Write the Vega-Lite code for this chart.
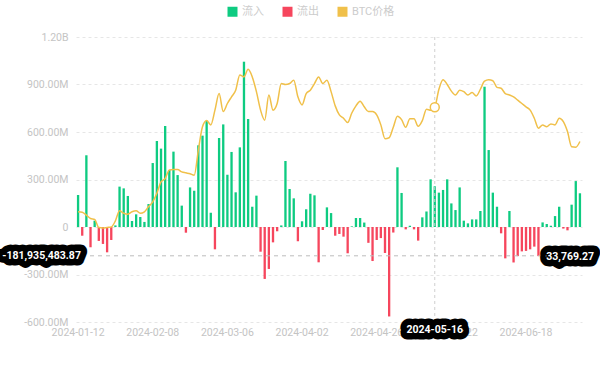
{
"$schema": "https://vega.github.io/schema/vega-lite/v6.json",
"width": 506, "height": 285,
"autosize": {"type": "none"},
"padding": {"left": 76, "top": 37, "right": 18, "bottom": 47},
"background": "white",
"config": {"font": "Roboto", "view": {"stroke": null}},
"datasets": {"flows": [
{"d":"2024-01-12","flow":202000000,"dir":"流入","price":43200},
{"d":"2024-01-16","flow":-55000000,"dir":"流出","price":43100},
{"d":"2024-01-17","flow":453000000,"dir":"流入","price":42500},
{"d":"2024-01-18","flow":-128000000,"dir":"流出","price":41800},
{"d":"2024-01-19","flow":40000000,"dir":"流入","price":41600},
{"d":"2024-01-22","flow":-88000000,"dir":"流出","price":39900},
{"d":"2024-01-23","flow":-107000000,"dir":"流出","price":39800},
{"d":"2024-01-24","flow":-160000000,"dir":"流出","price":39900},
{"d":"2024-01-25","flow":-82000000,"dir":"流出","price":40000},
{"d":"2024-01-26","flow":10000000,"dir":"流入","price":41300},
{"d":"2024-01-29","flow":255000000,"dir":"流入","price":43400},
{"d":"2024-01-30","flow":244000000,"dir":"流入","price":42900},
{"d":"2024-01-31","flow":196000000,"dir":"流入","price":42700},
{"d":"2024-02-01","flow":38000000,"dir":"流入","price":43200},
{"d":"2024-02-02","flow":80000000,"dir":"流入","price":43400},
{"d":"2024-02-05","flow":63000000,"dir":"流入","price":42900},
{"d":"2024-02-06","flow":32000000,"dir":"流入","price":43200},
{"d":"2024-02-07","flow":145000000,"dir":"流入","price":44300},
{"d":"2024-02-08","flow":404000000,"dir":"流入","price":45300},
{"d":"2024-02-09","flow":543000000,"dir":"流入","price":47100},
{"d":"2024-02-12","flow":495000000,"dir":"流入","price":49500},
{"d":"2024-02-13","flow":638000000,"dir":"流入","price":50200},
{"d":"2024-02-14","flow":360000000,"dir":"流入","price":52000},
{"d":"2024-02-15","flow":476000000,"dir":"流入","price":52100},
{"d":"2024-02-16","flow":328000000,"dir":"流入","price":52100},
{"d":"2024-02-20","flow":135000000,"dir":"流入","price":51600},
{"d":"2024-02-21","flow":-36000000,"dir":"流出","price":51400},
{"d":"2024-02-22","flow":250000000,"dir":"流入","price":51200},
{"d":"2024-02-23","flow":229000000,"dir":"流入","price":50900},
{"d":"2024-02-26","flow":516000000,"dir":"流入","price":56200},
{"d":"2024-02-27","flow":577000000,"dir":"流入","price":61100},
{"d":"2024-02-28","flow":669000000,"dir":"流入","price":62400},
{"d":"2024-02-29","flow":90000000,"dir":"流入","price":61500},
{"d":"2024-03-01","flow":-141000000,"dir":"流出","price":64600},
{"d":"2024-03-04","flow":562000000,"dir":"流入","price":68100},
{"d":"2024-03-05","flow":648000000,"dir":"流入","price":64300},
{"d":"2024-03-06","flow":330000000,"dir":"流入","price":66000},
{"d":"2024-03-07","flow":474000000,"dir":"流入","price":67400},
{"d":"2024-03-08","flow":219000000,"dir":"流入","price":68800},
{"d":"2024-03-11","flow":503000000,"dir":"流入","price":72000},
{"d":"2024-03-12","flow":1044000000,"dir":"流入","price":71600},
{"d":"2024-03-13","flow":682000000,"dir":"流入","price":73200},
{"d":"2024-03-14","flow":128000000,"dir":"流入","price":71600},
{"d":"2024-03-15","flow":198000000,"dir":"流入","price":68500},
{"d":"2024-03-18","flow":-156000000,"dir":"流出","price":64600},
{"d":"2024-03-19","flow":-328000000,"dir":"流出","price":62500},
{"d":"2024-03-20","flow":-265000000,"dir":"流出","price":67800},
{"d":"2024-03-21","flow":-97000000,"dir":"流出","price":64600},
{"d":"2024-03-22","flow":-27000000,"dir":"流出","price":66000},
{"d":"2024-03-25","flow":10000000,"dir":"流入","price":70200},
{"d":"2024-03-26","flow":417000000,"dir":"流入","price":70000},
{"d":"2024-03-27","flow":240000000,"dir":"流入","price":70200},
{"d":"2024-03-28","flow":181000000,"dir":"流入","price":70900},
{"d":"2024-04-01","flow":-90000000,"dir":"流出","price":67400},
{"d":"2024-04-02","flow":36000000,"dir":"流入","price":65700},
{"d":"2024-04-03","flow":112000000,"dir":"流入","price":68100},
{"d":"2024-04-04","flow":210000000,"dir":"流入","price":68800},
{"d":"2024-04-05","flow":200000000,"dir":"流入","price":70200},
{"d":"2024-04-08","flow":-223000000,"dir":"流出","price":71600},
{"d":"2024-04-09","flow":-19000000,"dir":"流出","price":70200},
{"d":"2024-04-10","flow":124000000,"dir":"流入","price":70900},
{"d":"2024-04-11","flow":88000000,"dir":"流入","price":68500},
{"d":"2024-04-12","flow":-55000000,"dir":"流出","price":65500},
{"d":"2024-04-15","flow":-44000000,"dir":"流出","price":63600},
{"d":"2024-04-16","flow":-61000000,"dir":"流出","price":62900},
{"d":"2024-04-17","flow":-166000000,"dir":"流出","price":62000},
{"d":"2024-04-18","flow":4000000,"dir":"流入","price":64000},
{"d":"2024-04-19","flow":57000000,"dir":"流入","price":65500},
{"d":"2024-04-22","flow":57000000,"dir":"流入","price":66500},
{"d":"2024-04-23","flow":28000000,"dir":"流入","price":65300},
{"d":"2024-04-24","flow":-100000000,"dir":"流出","price":64300},
{"d":"2024-04-25","flow":-215000000,"dir":"流出","price":64300},
{"d":"2024-04-26","flow":-82000000,"dir":"流出","price":63600},
{"d":"2024-04-29","flow":-70000000,"dir":"流出","price":61500},
{"d":"2024-04-30","flow":-164000000,"dir":"流出","price":58600},
{"d":"2024-05-01","flow":-565000000,"dir":"流出","price":58800},
{"d":"2024-05-02","flow":-35000000,"dir":"流出","price":61000},
{"d":"2024-05-03","flow":377000000,"dir":"流入","price":63300},
{"d":"2024-05-06","flow":215000000,"dir":"流入","price":62600},
{"d":"2024-05-07","flow":-15000000,"dir":"流出","price":61000},
{"d":"2024-05-08","flow":8000000,"dir":"流入","price":62800},
{"d":"2024-05-09","flow":-15000000,"dir":"流出","price":62800},
{"d":"2024-05-10","flow":-86000000,"dir":"流出","price":61200},
{"d":"2024-05-13","flow":61000000,"dir":"流入","price":62400},
{"d":"2024-05-14","flow":98000000,"dir":"流入","price":64800},
{"d":"2024-05-15","flow":301000000,"dir":"流入","price":64600},
{"d":"2024-05-16","flow":257000000,"dir":"流入","price":65200},
{"d":"2024-05-17","flow":217000000,"dir":"流入","price":69000},
{"d":"2024-05-20","flow":234000000,"dir":"流入","price":71000},
{"d":"2024-05-21","flow":301000000,"dir":"流入","price":70000},
{"d":"2024-05-22","flow":149000000,"dir":"流入","price":68600},
{"d":"2024-05-23","flow":107000000,"dir":"流入","price":67800},
{"d":"2024-05-24","flow":250000000,"dir":"流入","price":68800},
{"d":"2024-05-28","flow":40000000,"dir":"流入","price":68500},
{"d":"2024-05-29","flow":23000000,"dir":"流入","price":67800},
{"d":"2024-05-30","flow":48000000,"dir":"流入","price":68300},
{"d":"2024-05-31","flow":48000000,"dir":"流入","price":67600},
{"d":"2024-06-03","flow":101000000,"dir":"流入","price":69000},
{"d":"2024-06-04","flow":886000000,"dir":"流入","price":70700},
{"d":"2024-06-05","flow":486000000,"dir":"流入","price":71000},
{"d":"2024-06-06","flow":217000000,"dir":"流入","price":70800},
{"d":"2024-06-07","flow":128000000,"dir":"流入","price":69400},
{"d":"2024-06-10","flow":-40000000,"dir":"流出","price":69200},
{"d":"2024-06-11","flow":-198000000,"dir":"流出","price":68100},
{"d":"2024-06-12","flow":101000000,"dir":"流入","price":67800},
{"d":"2024-06-13","flow":-224000000,"dir":"流出","price":67400},
{"d":"2024-06-14","flow":-184000000,"dir":"流出","price":66700},
{"d":"2024-06-17","flow":-154000000,"dir":"流出","price":66000},
{"d":"2024-06-18","flow":-151000000,"dir":"流出","price":65300},
{"d":"2024-06-20","flow":-141000000,"dir":"流出","price":64600},
{"d":"2024-06-21","flow":-124000000,"dir":"流出","price":62900},
{"d":"2024-06-24","flow":-184000000,"dir":"流出","price":60800},
{"d":"2024-06-25","flow":29000000,"dir":"流入","price":61500},
{"d":"2024-06-26","flow":19000000,"dir":"流入","price":61100},
{"d":"2024-06-27","flow":8000000,"dir":"流入","price":61700},
{"d":"2024-06-28","flow":69000000,"dir":"流入","price":61500},
{"d":"2024-07-01","flow":128000000,"dir":"流入","price":62900},
{"d":"2024-07-02","flow":-10000000,"dir":"流出","price":62200},
{"d":"2024-07-03","flow":-21000000,"dir":"流出","price":60100},
{"d":"2024-07-05","flow":141000000,"dir":"流入","price":56900},
{"d":"2024-07-08","flow":290000000,"dir":"流入","price":56800},
{"d":"2024-07-09","flow":213000000,"dir":"流入","price":58000}
]},
"layer": [
 {"layer": [
  {"data": {"name": "flows"},
   "mark": {"type": "bar"},
   "encoding": {
    "x": {"field": "d", "type": "ordinal", "title": null,
      "scale": {"paddingInner": 0.44, "paddingOuter": 0.22},
      "axis": {"values": ["2024-01-12","2024-02-08","2024-03-06","2024-04-02","2024-04-26","2024-05-22","2024-06-18"],
        "labelAngle": 0, "labelColor": "#c4c4c4", "labelFontSize": 10.5, "ticks": false, "domain": false,
        "grid": false, "labelPadding": 5, "labelOverlap": false, "labelBound": false, "zindex": 0}},
    "y": {"field": "flow", "type": "quantitative", "title": null,
      "scale": {"domain": [-600000000, 1200000000], "nice": false, "zero": false},
      "axis": {"values": [-600000000,-300000000,0,300000000,600000000,900000000,1200000000],
        "labelExpr": "datum.value == 0 ? '0' : (datum.value < 0 ? '-' : '') + (abs(datum.value) >= 1000000000 ? format(abs(datum.value)/1000000000, '.2f') + 'B' : format(abs(datum.value)/1000000, '.2f') + 'M')",
        "labelColor": "#c4c4c4", "labelFontSize": 10.5, "ticks": false, "domain": false,
        "grid": true, "gridColor": "#e6e6e6", "gridDash": [3, 3], "labelPadding": 8, "zindex": 0}},
    "color": {"field": "dir", "type": "nominal",
      "scale": {"domain": ["流入","流出","BTC价格"], "range": ["#0ECB81","#F6465D","#F0C04A"]},
      "legend": {"title": null, "orient": "none", "legendX": 151, "legendY": -31, "direction": "horizontal",
        "symbolType": "square", "symbolSize": 100, "symbolStrokeWidth": 0, "labelFontSize": 11,
        "labelColor": "#cccccc", "labelFont": "Roboto, Noto Sans CJK SC", "columnPadding": 18}}
   }},
  {"data": {"values": [{"d": "2024-05-16"}]},
   "mark": {"type": "rule", "color": "#cfcfcf", "strokeDash": [3, 3], "strokeWidth": 1},
   "encoding": {"x": {"field": "d", "type": "ordinal", "title": null}}},
  {"data": {"values": [{"v": -181935483.87}]},
   "mark": {"type": "rule", "color": "#bdbdbd", "strokeDash": [4, 4], "strokeWidth": 1},
   "encoding": {"y": {"field": "v", "type": "quantitative"}}},
  {"data": {"values": [{"d": "2024-01-12", "v": -181935483.87, "lab": "-181,935,483.87"}]},
   "mark": {"type": "text", "fontSize": 10.5, "fontWeight": "bold", "fill": "#000", "stroke": "#000", "strokeWidth": 13, "strokeJoin": "round", "align": "right", "dx": 4, "baseline": "middle"},
   "encoding": {"x": {"field": "d", "type": "ordinal", "bandPosition": 0, "title": null},
     "y": {"field": "v", "type": "quantitative"}, "text": {"field": "lab"}}},
  {"data": {"values": [{"d": "2024-01-12", "v": -181935483.87, "lab": "-181,935,483.87"}]},
   "mark": {"type": "text", "fontSize": 10.5, "fontWeight": "bold", "fill": "#fff", "align": "right", "dx": 4, "baseline": "middle"},
   "encoding": {"x": {"field": "d", "type": "ordinal", "bandPosition": 0, "title": null},
     "y": {"field": "v", "type": "quantitative"}, "text": {"field": "lab"}}},
  {"data": {"values": [{"d": "2024-05-16", "v": -600000000}]},
   "mark": {"type": "text", "fontSize": 10.5, "fontWeight": "bold", "fill": "#000", "stroke": "#000", "strokeWidth": 13, "strokeJoin": "round", "align": "center", "dy": 8, "baseline": "middle"},
   "encoding": {"x": {"field": "d", "type": "ordinal", "title": null},
     "y": {"field": "v", "type": "quantitative"}, "text": {"field": "d"}}},
  {"data": {"values": [{"d": "2024-05-16", "v": -600000000}]},
   "mark": {"type": "text", "fontSize": 10.5, "fontWeight": "bold", "fill": "#fff", "align": "center", "dy": 8, "baseline": "middle"},
   "encoding": {"x": {"field": "d", "type": "ordinal", "title": null},
     "y": {"field": "v", "type": "quantitative"}, "text": {"field": "d"}}}
 ]},
 {"layer": [
  {"data": {"name": "flows"},
   "mark": {"type": "line", "interpolate": "monotone", "strokeWidth": 1.5},
   "encoding": {
    "x": {"field": "d", "type": "ordinal", "title": null},
    "y": {"field": "price", "type": "quantitative", "axis": null, "scale": {"domain": [20000, 80000], "nice": false, "zero": false}},
    "color": {"datum": "BTC价格", "type": "nominal"}}},
  {"data": {"name": "flows"},
   "transform": [{"filter": "datum.d == '2024-05-16'"}],
   "mark": {"type": "point", "shape": "circle", "size": 80, "filled": true, "fill": "#fff", "stroke": "#F0C04A", "strokeWidth": 1.5, "opacity": 1},
   "encoding": {
    "x": {"field": "d", "type": "ordinal", "title": null},
    "y": {"field": "price", "type": "quantitative"}}},
  {"data": {"values": [{"d": "2024-07-09", "p": 33769.27, "lab": "33,769.27"}]},
   "mark": {"type": "text", "fontSize": 10.5, "fontWeight": "bold", "fill": "#000", "stroke": "#000", "strokeWidth": 13, "strokeJoin": "round", "align": "right", "dx": 13, "baseline": "middle"},
   "encoding": {"x": {"field": "d", "type": "ordinal", "bandPosition": 1, "title": null},
     "y": {"field": "p", "type": "quantitative"}, "text": {"field": "lab"}}},
  {"data": {"values": [{"d": "2024-07-09", "p": 33769.27, "lab": "33,769.27"}]},
   "mark": {"type": "text", "fontSize": 10.5, "fontWeight": "bold", "fill": "#fff", "align": "right", "dx": 13, "baseline": "middle"},
   "encoding": {"x": {"field": "d", "type": "ordinal", "bandPosition": 1, "title": null},
     "y": {"field": "p", "type": "quantitative"}, "text": {"field": "lab"}}}
 ]}
],
"resolve": {"scale": {"y": "independent"}}
}
